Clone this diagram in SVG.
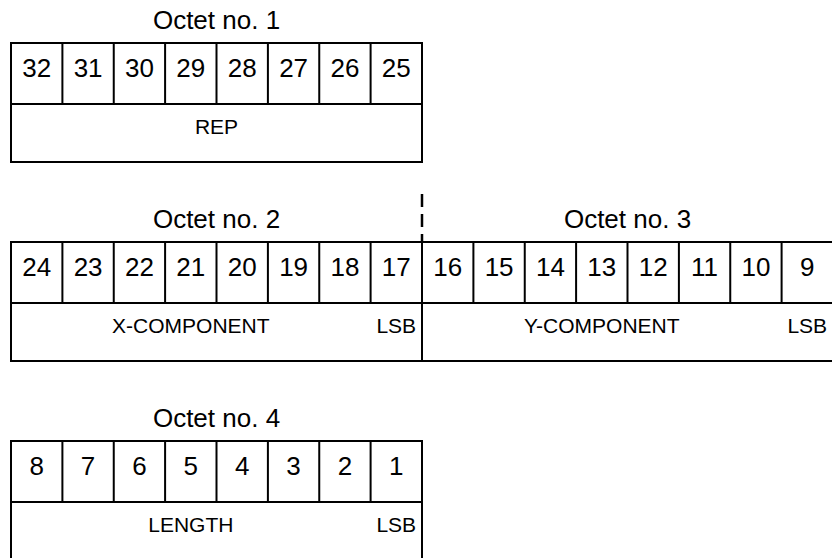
<svg xmlns="http://www.w3.org/2000/svg" width="832" height="558" viewBox="0 0 832 558">
<style>
.box{fill:none;stroke:#000;stroke-width:2}
.ln{stroke:#000;stroke-width:2;fill:none}
.dash{stroke:#000;stroke-width:2.5;fill:none;stroke-dasharray:13 7}
.t{font-family:"Liberation Sans",Arial,sans-serif;font-size:26px;fill:#000;text-anchor:middle}
.d{font-family:"Liberation Sans",Arial,sans-serif;font-size:26px;fill:#000;text-anchor:middle}
.l{font-family:"Liberation Sans",Arial,sans-serif;font-size:21px;fill:#000;text-anchor:middle}
</style>
<rect width="832" height="558" fill="#fff"/>

<g id="octet1">
<text class="t" x="216.5" y="29">Octet no. 1</text>
<rect class="box" x="11" y="43" width="411" height="119"/>
<path class="ln" d="M11 104H422M62.4 43V104M113.75 43V104M165.1 43V104M216.5 43V104M267.9 43V104M319.25 43V104M370.6 43V104"/>
<text class="d" y="77"><tspan x="36.7">32</tspan><tspan x="88.1">31</tspan><tspan x="139.4">30</tspan><tspan x="190.8">29</tspan><tspan x="242.2">28</tspan><tspan x="293.6">27</tspan><tspan x="344.9">26</tspan><tspan x="396.3">25</tspan></text>
<text class="l" x="216.5" y="134">REP</text>
</g>

<g id="octet2">
<text class="t" x="216.5" y="228">Octet no. 2</text>
<rect class="box" x="11" y="242" width="411" height="119"/>
<path class="ln" d="M11 303H422M62.4 242V303M113.75 242V303M165.1 242V303M216.5 242V303M267.9 242V303M319.25 242V303M370.6 242V303"/>
<text class="d" y="276"><tspan x="36.7">24</tspan><tspan x="88.1">23</tspan><tspan x="139.4">22</tspan><tspan x="190.8">21</tspan><tspan x="242.2">20</tspan><tspan x="293.6">19</tspan><tspan x="344.9">18</tspan><tspan x="396.3">17</tspan></text>
<text class="l" x="190.8" y="333">X-COMPONENT</text>
<text class="l" x="396.3" y="333">LSB</text>
</g>

<g id="octet3">
<text class="t" x="627.5" y="228">Octet no. 3</text>
<rect class="box" x="422" y="242" width="411" height="119"/>
<path class="ln" d="M422 303H833M473.4 242V303M524.75 242V303M576.1 242V303M627.5 242V303M678.9 242V303M730.25 242V303M781.6 242V303"/>
<text class="d" y="276"><tspan x="447.7">16</tspan><tspan x="499.1">15</tspan><tspan x="550.4">14</tspan><tspan x="601.8">13</tspan><tspan x="653.2">12</tspan><tspan x="704.6">11</tspan><tspan x="755.9">10</tspan><tspan x="807.3">9</tspan></text>
<text class="l" x="601.8" y="333">Y-COMPONENT</text>
<text class="l" x="807.3" y="333">LSB</text>
</g>

<g id="octet4">
<text class="t" x="216.5" y="427">Octet no. 4</text>
<rect class="box" x="11" y="441" width="411" height="119"/>
<path class="ln" d="M11 502H422M62.4 441V502M113.75 441V502M165.1 441V502M216.5 441V502M267.9 441V502M319.25 441V502M370.6 441V502"/>
<text class="d" y="475"><tspan x="36.7">8</tspan><tspan x="88.1">7</tspan><tspan x="139.4">6</tspan><tspan x="190.8">5</tspan><tspan x="242.2">4</tspan><tspan x="293.6">3</tspan><tspan x="344.9">2</tspan><tspan x="396.3">1</tspan></text>
<text class="l" x="190.8" y="532">LENGTH</text>
<text class="l" x="396.3" y="532">LSB</text>
</g>

<g id="connectors">
<path class="dash" d="M422 194V242"/>
</g>
</svg>
